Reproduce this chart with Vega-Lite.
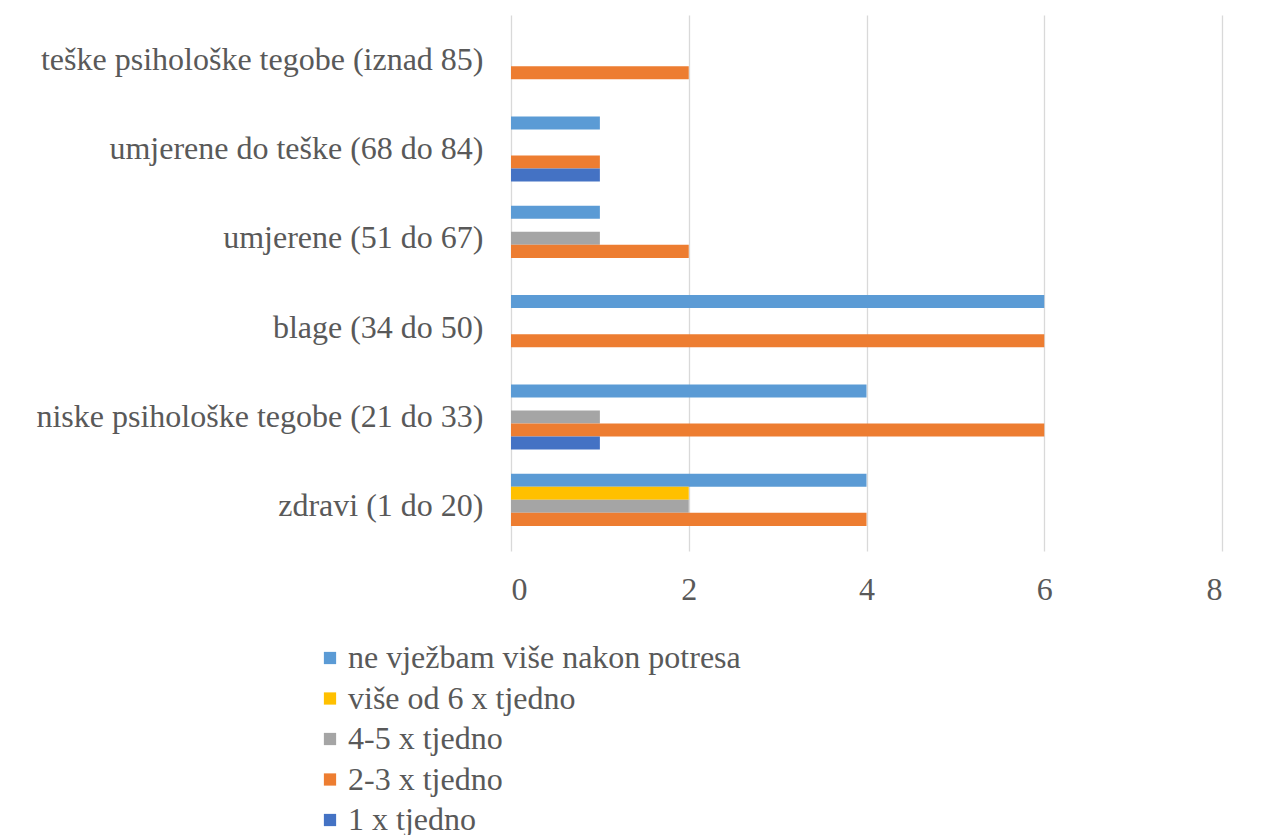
{
  "$schema": "https://vega.github.io/schema/vega-lite/v6.json",
  "autosize": "none",
  "padding": {"left": 511, "top": 15, "right": 39, "bottom": 284},
  "width": 711,
  "height": 536,
  "background": "white",
  "config": {
    "font": "Liberation Serif, Times New Roman, serif",
    "view": {"stroke": null},
    "axis": {"labelFont": "Liberation Serif, Times New Roman, serif", "labelColor": "#595959", "labelFontSize": 32}
  },
  "data": {
    "values": [
      {"kategorija": "zdravi (1 do 20)", "ucestalost": "ne vježbam više nakon potresa", "broj": 4},
      {"kategorija": "zdravi (1 do 20)", "ucestalost": "više od 6 x tjedno", "broj": 2},
      {"kategorija": "zdravi (1 do 20)", "ucestalost": "4-5 x tjedno", "broj": 2},
      {"kategorija": "zdravi (1 do 20)", "ucestalost": "2-3 x tjedno", "broj": 4},
      {"kategorija": "niske psihološke tegobe (21 do 33)", "ucestalost": "ne vježbam više nakon potresa", "broj": 4},
      {"kategorija": "niske psihološke tegobe (21 do 33)", "ucestalost": "4-5 x tjedno", "broj": 1},
      {"kategorija": "niske psihološke tegobe (21 do 33)", "ucestalost": "2-3 x tjedno", "broj": 6},
      {"kategorija": "niske psihološke tegobe (21 do 33)", "ucestalost": "1 x tjedno", "broj": 1},
      {"kategorija": "blage (34 do 50)", "ucestalost": "ne vježbam više nakon potresa", "broj": 6},
      {"kategorija": "blage (34 do 50)", "ucestalost": "2-3 x tjedno", "broj": 6},
      {"kategorija": "umjerene (51 do 67)", "ucestalost": "ne vježbam više nakon potresa", "broj": 1},
      {"kategorija": "umjerene (51 do 67)", "ucestalost": "4-5 x tjedno", "broj": 1},
      {"kategorija": "umjerene (51 do 67)", "ucestalost": "2-3 x tjedno", "broj": 2},
      {"kategorija": "umjerene do teške (68 do 84)", "ucestalost": "ne vježbam više nakon potresa", "broj": 1},
      {"kategorija": "umjerene do teške (68 do 84)", "ucestalost": "2-3 x tjedno", "broj": 1},
      {"kategorija": "umjerene do teške (68 do 84)", "ucestalost": "1 x tjedno", "broj": 1},
      {"kategorija": "teške psihološke tegobe (iznad 85)", "ucestalost": "2-3 x tjedno", "broj": 2}
    ]
  },
  "mark": {"type": "bar"},
  "encoding": {
    "y": {
      "field": "kategorija",
      "type": "nominal",
      "sort": ["teške psihološke tegobe (iznad 85)", "umjerene do teške (68 do 84)", "umjerene (51 do 67)", "blage (34 do 50)", "niske psihološke tegobe (21 do 33)", "zdravi (1 do 20)"],
      "scale": {"paddingInner": 0.27, "paddingOuter": 0.135},
      "axis": {"title": null, "domain": false, "ticks": false, "labelPadding": 28, "labelLimit": 600}
    },
    "yOffset": {
      "field": "ucestalost",
      "type": "nominal",
      "sort": ["ne vježbam više nakon potresa", "više od 6 x tjedno", "4-5 x tjedno", "2-3 x tjedno", "1 x tjedno"],
      "scale": {"domain": ["ne vježbam više nakon potresa", "više od 6 x tjedno", "4-5 x tjedno", "2-3 x tjedno", "1 x tjedno"], "paddingInner": 0, "paddingOuter": 0}
    },
    "x": {
      "field": "broj",
      "type": "quantitative",
      "scale": {"domain": [0, 8]},
      "axis": {"title": null, "values": [0, 2, 4, 6, 8], "domain": false, "ticks": false, "grid": true, "gridColor": "#D9D9D9", "gridWidth": 1.3, "labelPadding": 23}
    },
    "color": {
      "field": "ucestalost",
      "type": "nominal",
      "scale": {
        "domain": ["ne vježbam više nakon potresa", "više od 6 x tjedno", "4-5 x tjedno", "2-3 x tjedno", "1 x tjedno"],
        "range": ["#5B9BD5", "#FFC000", "#A5A5A5", "#ED7D31", "#4472C4"]
      },
      "legend": {
        "title": null,
        "orient": "none",
        "direction": "vertical",
        "legendX": -197,
        "legendY": 627,
        "symbolType": "square",
        "symbolSize": 150,
        "symbolStrokeWidth": 0,
        "labelFont": "Liberation Serif, Times New Roman, serif",
        "labelFontSize": 32,
        "labelColor": "#595959",
        "labelOffset": 2,
        "rowPadding": 8.5,
        "labelLimit": 600
      }
    }
  }
}
